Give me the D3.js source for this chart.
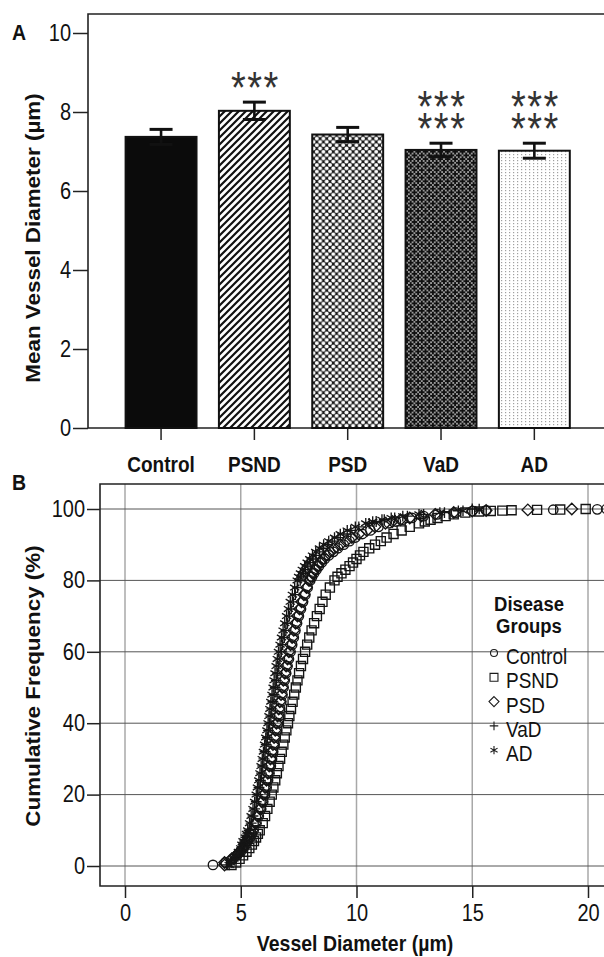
<!DOCTYPE html>
<html>
<head>
<meta charset="utf-8">
<script src="https://cdn.jsdelivr.net/npm/d3@7"></script>
<style>
  html, body { margin: 0; padding: 0; background: #fff; }
  svg { display: block; }
</style>
</head>
<body>
<svg id="chart" width="604" height="957"></svg>
<script>
// ---------------- DATA ----------------
const groups = ["Control", "PSND", "PSD", "VaD", "AD"];
const meanDiam = [7.37, 8.03, 7.43, 7.04, 7.02];
const semDiam  = [0.19, 0.22, 0.18, 0.17, 0.19];
const sigRows  = [0, 1, 0, 2, 2];           // rows of "***"
const yTicksA  = [0, 2, 4, 6, 8, 10];

const xTicksB  = [0, 5, 10, 15, 20];
const yTicksB  = [0, 20, 40, 60, 80, 100];

// cumulative frequency (%) levels
const pct = [0.3, 1, 2, 3, 4, 5, 6, 7, 8, 9, 10, 12, 14, 16, 18, 20, 22, 24, 26, 28, 30,
  32, 34, 36, 38, 40, 42, 44, 46, 48, 50, 52, 54, 56, 58, 60, 62, 64, 66, 68, 70, 72, 74,
  76, 78, 80, 81, 82, 83, 84, 85, 86, 87, 88, 89, 90, 91, 92, 93, 94, 95, 96, 96.5, 97,
  97.5, 98, 98.5, 99];
// vessel diameter (µm) at each level, per group
const diamControl = [3.8, 4.35, 4.65, 4.85, 5.0, 5.12, 5.22, 5.3, 5.4, 5.48, 5.56, 5.68, 5.78,
  5.88, 5.97, 6.05, 6.12, 6.18, 6.24, 6.3, 6.35, 6.4, 6.46, 6.51, 6.56, 6.61, 6.66, 6.7, 6.75,
  6.8, 6.85, 6.9, 6.96, 7.02, 7.08, 7.15, 7.22, 7.29, 7.36, 7.43, 7.51, 7.6, 7.69, 7.79, 7.89,
  8.0, 8.08, 8.17, 8.27, 8.38, 8.5, 8.63, 8.8, 9.0, 9.2, 9.45, 9.7, 9.95, 10.25, 10.6, 10.95,
  11.4, 11.7, 12.0, 12.4, 12.9, 13.5, 14.3];
const diamPSND = [4.6, 4.8, 4.95, 5.1, 5.25, 5.37, 5.48, 5.57, 5.66, 5.74, 5.82, 5.95, 6.05,
  6.15, 6.25, 6.34, 6.41, 6.49, 6.56, 6.63, 6.7, 6.77, 6.84, 6.9, 6.97, 7.04, 7.1, 7.17, 7.24,
  7.31, 7.38, 7.45, 7.52, 7.6, 7.69, 7.78, 7.87, 7.96, 8.06, 8.17, 8.29, 8.41, 8.53, 8.67, 8.85,
  9.05, 9.18, 9.35, 9.52, 9.7, 9.85, 10.0, 10.15, 10.3, 10.55, 10.8, 11.05, 11.3, 11.6, 11.95,
  12.3, 12.7, 12.95, 13.2, 13.5, 13.85, 14.2, 14.7];
const diamPSD = [4.3, 4.3, 4.6, 4.8, 4.95, 5.08, 5.18, 5.26, 5.35, 5.43, 5.5, 5.62, 5.72, 5.82,
  5.9, 5.98, 6.05, 6.11, 6.17, 6.23, 6.28, 6.33, 6.39, 6.44, 6.49, 6.54, 6.59, 6.64, 6.69, 6.74,
  6.79, 6.84, 6.9, 6.96, 7.02, 7.08, 7.15, 7.22, 7.29, 7.37, 7.45, 7.54, 7.63, 7.73, 7.84, 7.95,
  8.02, 8.1, 8.2, 8.3, 8.42, 8.55, 8.7, 8.86, 9.05, 9.3, 9.55, 9.8, 10.1, 10.45, 10.8, 11.25,
  11.55, 11.9, 12.3, 12.8, 13.4, 14.2];
const diamVaD = [4.4, 4.6, 4.75, 4.85, 4.95, 5.03, 5.1, 5.17, 5.23, 5.3, 5.36, 5.45, 5.53, 5.6,
  5.67, 5.73, 5.79, 5.85, 5.9, 5.95, 6.0, 6.05, 6.1, 6.15, 6.2, 6.25, 6.3, 6.34, 6.39, 6.44,
  6.49, 6.54, 6.59, 6.64, 6.69, 6.75, 6.81, 6.88, 6.95, 7.02, 7.1, 7.18, 7.27, 7.36, 7.46, 7.57,
  7.64, 7.72, 7.8, 7.9, 8.0, 8.12, 8.25, 8.4, 8.56, 8.75, 8.95, 9.2, 9.45, 9.75, 10.1, 10.55,
  10.85, 11.2, 11.65, 12.2, 12.9, 13.8];
const diamAD = [4.5, 4.55, 4.7, 4.8, 4.9, 5.0, 5.05, 5.1, 5.2, 5.25, 5.3, 5.38, 5.45, 5.53, 5.6,
  5.67, 5.72, 5.78, 5.83, 5.88, 5.93, 5.98, 6.03, 6.08, 6.13, 6.18, 6.22, 6.26, 6.3, 6.35, 6.4,
  6.44, 6.48, 6.53, 6.58, 6.63, 6.7, 6.76, 6.83, 6.9, 6.98, 7.06, 7.14, 7.23, 7.33, 7.44, 7.5,
  7.58, 7.66, 7.76, 7.87, 7.98, 8.1, 8.24, 8.4, 8.58, 8.8, 9.05, 9.3, 9.6, 9.95, 10.4, 10.7,
  11.1, 11.5, 12.0, 12.7, 13.6];
// sparse upper tail: [cumulative %, diameter]
const tailControl = [[99.4, 15.0], [99.6, 15.6], [99.8, 18.5], [99.9, 20.4], [100, 20.8]];
const tailPSND    = [[99.3, 15.3], [99.45, 15.8], [99.55, 16.3], [99.65, 16.7], [99.75, 17.8], [99.85, 18.8], [100, 19.9]];
const tailPSD     = [[99.4, 15.0], [99.6, 15.6], [99.75, 17.4], [100, 19.3]];
const tailVaD     = [[99.5, 14.4], [100, 15.0]];
const tailAD      = [[99.5, 14.6], [100, 15.3]];

// ---------------- SETUP ----------------
const FONT = "'Liberation Sans', Arial, Helvetica, sans-serif";
const SY = 1.15;   // vertical text stretch of the reference
const svg = d3.select("#chart");
const defs = svg.append("defs");

function label(parent, x, y, s, o = {}) {
  const sy = o.sy === undefined ? SY : o.sy;
  const g = parent.append("g")
    .attr("transform", `translate(${x},${y}) scale(1,${sy})` + (o.rotate ? ` rotate(${o.rotate})` : ""));
  g.append("text")
    .attr("text-anchor", o.anchor || "start")
    .style("font-family", FONT)
    .style("font-size", (o.size || 19) + "px")
    .style("font-weight", o.weight || "normal")
    .style("letter-spacing", o.ls || null)
    .attr("fill", o.fill || "#111")
    .text(s);
  return g;
}

// ---------------- PATTERNS ----------------
{
  const p1 = defs.append("pattern").attr("id", "pStripe").attr("patternUnits", "userSpaceOnUse")
    .attr("width", 7).attr("height", 7);
  p1.append("rect").attr("width", 7).attr("height", 7).attr("fill", "#fff");
  p1.append("path").attr("d", "M-1,1 L1,-1 M0,7 L7,0 M6,8 L8,6")
    .attr("stroke", "#111").attr("stroke-width", 2.2);

  const p2 = defs.append("pattern").attr("id", "pLattice").attr("patternUnits", "userSpaceOnUse")
    .attr("width", 6.6).attr("height", 6.6);
  p2.append("rect").attr("width", 6.6).attr("height", 6.6).attr("fill", "#161616");
  [[0, 0], [6.6, 0], [0, 6.6], [6.6, 6.6], [3.3, 3.3]].forEach(([cx, cy]) =>
    p2.append("circle").attr("cx", cx).attr("cy", cy).attr("r", 2.0).attr("fill", "#fff"));

  const p3 = defs.append("pattern").attr("id", "pPlus").attr("patternUnits", "userSpaceOnUse")
    .attr("width", 7.4).attr("height", 7.4);
  p3.append("rect").attr("width", 7.4).attr("height", 7.4).attr("fill", "#fff");
  [[0, 0], [7.4, 0], [0, 7.4], [7.4, 7.4], [3.7, 3.7]].forEach(([cx, cy]) =>
    p3.append("path").attr("d", `M${cx - 3},${cy} L${cx + 3},${cy} M${cx},${cy - 3} L${cx},${cy + 3}`)
      .attr("stroke", "#111").attr("stroke-width", 2.3));

  const p4 = defs.append("pattern").attr("id", "pDots").attr("patternUnits", "userSpaceOnUse")
    .attr("width", 4).attr("height", 3);
  p4.append("rect").attr("width", 4).attr("height", 3).attr("fill", "#fff");
  p4.append("rect").attr("x", 1).attr("y", 1).attr("width", 1.2).attr("height", 1.2).attr("fill", "#a0a0a0");
}
const fills = ["#0b0b0b", "url(#pStripe)", "url(#pLattice)", "url(#pPlus)", "url(#pDots)"];

// ---------------- PANEL A ----------------
const gA = svg.append("g");
const xA = d3.scaleBand().domain(groups).range([114.4, 581]).paddingInner(0.24).paddingOuter(0.12);
const yA = d3.scaleLinear().domain([0, 10]).range([428, 33]);
const topA = yA(10.48);

gA.append("path").attr("d", `M604,${topA} H88 V${yA(0)} H604`)
  .attr("fill", "none").attr("stroke", "#222").attr("stroke-width", 1.6);

const axA = gA.append("g").attr("transform", "translate(88,0)")
  .call(d3.axisLeft(yA).tickValues(yTicksA).tickSize(15).tickPadding(2).tickFormat(d3.format("d")));
axA.select(".domain").remove();
axA.selectAll(".tick line").attr("stroke", "#222").attr("stroke-width", 1.5);
axA.selectAll(".tick text").style("font-family", FONT).style("font-size", "20px").attr("fill", "#111")
  .attr("transform", `scale(1,${SY})`);

const axAx = gA.append("g").attr("transform", `translate(0,${yA(0)})`)
  .call(d3.axisBottom(xA).tickSize(12).tickSizeOuter(0));
axAx.select(".domain").remove();
axAx.selectAll(".tick line").attr("stroke", "#222").attr("stroke-width", 1.5);
axAx.selectAll(".tick text").style("font-family", FONT).style("font-size", "19px").style("font-weight", "bold")
  .attr("fill", "#111").attr("y", 0).attr("dy", null).attr("transform", `translate(0,44) scale(1,${SY})`);

gA.selectAll("rect.bar").data(groups).join("rect").attr("class", "bar")
  .attr("x", d => xA(d)).attr("width", xA.bandwidth())
  .attr("y", (d, i) => yA(meanDiam[i])).attr("height", (d, i) => yA(0) - yA(meanDiam[i]))
  .attr("fill", (d, i) => fills[i]).attr("stroke", "#111").attr("stroke-width", 2);

groups.forEach((g, i) => {
  const cx = xA(g) + xA.bandwidth() / 2;
  const y1 = yA(meanDiam[i] + semDiam[i]), y0 = yA(meanDiam[i] - semDiam[i]);
  gA.append("line").attr("x1", cx).attr("x2", cx).attr("y1", y1).attr("y2", y0)
    .attr("stroke", "#111").attr("stroke-width", 2.6);
  [y1, y0].forEach(yy => gA.append("line").attr("x1", cx - 11.5).attr("x2", cx + 11.5)
    .attr("y1", yy).attr("y2", yy).attr("stroke", "#111").attr("stroke-width", 3));
  for (let r = 0; r < sigRows[i]; r++) {
    label(gA, cx + 1, y1 + 1 - r * 22, "***",
      { size: 38, anchor: "middle", fill: "#333", ls: "1.5px" });
  }
});

label(gA, 40, 238, "Mean Vessel Diameter (µm)", { size: 19.5, weight: "bold", anchor: "middle", rotate: -90 });
label(gA, 12, 40, "A", { size: 19.5, weight: "bold" });

// ---------------- PANEL B ----------------
const gB = svg.append("g");
const xB = d3.scaleLinear().domain([0, 20]).range([125, 588]);
const yB = d3.scaleLinear().domain([0, 100]).range([866, 509]);
const leftB = 100, topB = 484, botB = 886;

gB.selectAll("line.vg").data(xTicksB).join("line").attr("class", "vg")
  .attr("x1", d => xB(d)).attr("x2", d => xB(d)).attr("y1", topB).attr("y2", botB)
  .attr("stroke", "#a8a8a8").attr("stroke-width", 1.5);
gB.selectAll("line.hg").data(yTicksB).join("line").attr("class", "hg")
  .attr("x1", leftB).attr("x2", 604).attr("y1", d => yB(d)).attr("y2", d => yB(d))
  .attr("stroke", "#555").attr("stroke-width", 1);

gB.append("path").attr("d", `M604,${topB} H${leftB} V${botB} H604`)
  .attr("fill", "none").attr("stroke", "#222").attr("stroke-width", 1.6);

const axBy = gB.append("g").attr("transform", `translate(${leftB},0)`)
  .call(d3.axisLeft(yB).tickValues(yTicksB).tickSize(13).tickPadding(2));
axBy.select(".domain").remove();
axBy.selectAll(".tick line").attr("stroke", "#222").attr("stroke-width", 1.5);
axBy.selectAll(".tick text").style("font-family", FONT).style("font-size", "20px").attr("fill", "#111")
  .attr("transform", `scale(1,${SY})`);

const axBx = gB.append("g").attr("transform", `translate(0,${botB})`)
  .call(d3.axisBottom(xB).tickValues(xTicksB).tickSize(12).tickSizeOuter(0));
axBx.select(".domain").remove();
axBx.selectAll(".tick line").attr("stroke", "#222").attr("stroke-width", 1.5);
axBx.selectAll(".tick text").style("font-family", FONT).style("font-size", "20px").attr("fill", "#111")
  .attr("y", 0).attr("dy", null).attr("transform", `translate(0,34.5) scale(1,${SY})`);

const symCircle = d3.symbol().type(d3.symbolCircle).size(70);
const symSquare = d3.symbol().type(d3.symbolSquare2).size(105);
const symDiamond = d3.symbol().type(d3.symbolDiamond2).size(85);
const symPlus = d3.symbol().type(d3.symbolPlus).size(40);
const symStar = d3.symbol().type(d3.symbolAsterisk).size(80);

const seriesB = [
  { name: "PSND", diam: diamPSND, tail: tailPSND, sym: symSquare },
  { name: "Control", diam: diamControl, tail: tailControl, sym: symCircle },
  { name: "PSD", diam: diamPSD, tail: tailPSD, sym: symDiamond },
  { name: "VaD", diam: diamVaD, tail: tailVaD, sym: symPlus },
  { name: "AD", diam: diamAD, tail: tailAD, sym: symStar },
];
seriesB.forEach(s => {
  const pts = s.diam.map((d, i) => [pct[i], d]).concat(s.tail);
  gB.append("g").selectAll("path").data(pts).join("path")
    .attr("transform", d => `translate(${xB(d[1])},${yB(d[0])})`)
    .attr("d", s.sym())
    .attr("fill", "none").attr("stroke", "#151515").attr("stroke-width", 1.35);
});

// legend
label(gB, 529, 611, "Disease", { size: 18.5, weight: "bold", anchor: "middle", sy: 1.08 });
label(gB, 529, 633, "Groups", { size: 18.5, weight: "bold", anchor: "middle", sy: 1.08 });
const legSyms = [
  d3.symbol().type(d3.symbolCircle).size(38),
  d3.symbol().type(d3.symbolSquare2).size(80),
  d3.symbol().type(d3.symbolDiamond2).size(64),
  d3.symbol().type(d3.symbolPlus).size(26),
  d3.symbol().type(d3.symbolAsterisk).size(48),
];
groups.forEach((g, i) => {
  const by = 664 + i * 24.3;
  gB.append("path").attr("transform", `translate(494,${by - 11})`).attr("d", legSyms[i]())
    .attr("fill", "none").attr("stroke", "#1c1c1c").attr("stroke-width", 1.1);
  label(gB, 506, by, g, { size: 19 });
});

label(gB, 40, 686, "Cumulative Frequency (%)", { size: 19.5, weight: "bold", anchor: "middle", rotate: -90 });
label(gB, 355, 951, "Vessel Diameter (µm)", { size: 19.5, weight: "bold", anchor: "middle" });
label(gB, 12, 490, "B", { size: 19.5, weight: "bold" });
</script>
</body>
</html>
